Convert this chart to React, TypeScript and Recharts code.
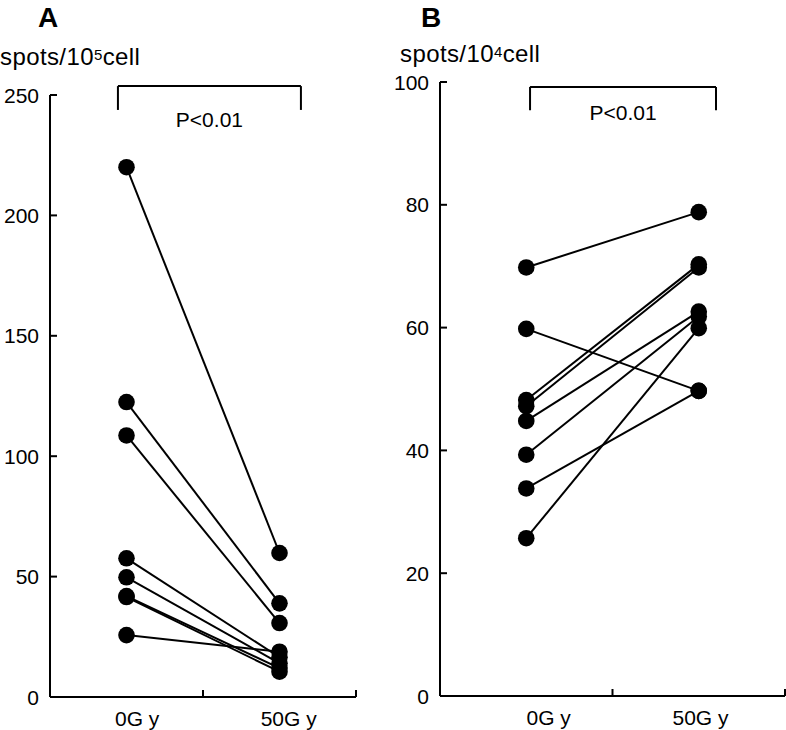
import React from 'react';
import { ScatterChart, Scatter, XAxis, YAxis, ReferenceLine } from 'recharts';

// group positions on the x axis and their labels
const GROUPS = ['0G y', '50G y'];
const GROUP_X = [0.5, 1.5];

// panel A: spots/10^5 cell, one pair per subject
const A_BEFORE = [220, 122.5, 108.6, 57.6, 49.7, 41.9, 41.5, 25.7];
const A_AFTER = [59.8, 38.9, 30.7, 16.5, 14, 12, 10.5, 18.8];
const A_TICKS = [0, 50, 100, 150, 200, 250];

// panel B: spots/10^4 cell
const B_BEFORE = [69.8, 59.8, 48.2, 47.2, 44.8, 39.3, 33.8, 25.7];
const B_AFTER = [78.8, 49.7, 70.3, 69.8, 62.6, 61.8, 49.7, 59.9];
const B_TICKS = [0, 20, 40, 60, 80, 100];

const FONT = '"Liberation Sans", Arial, Helvetica, sans-serif';

const dot = (p: any) => <circle cx={p.cx} cy={p.cy} r={8.3} fill="#000" />;

interface PanelProps {
  width: number;
  height: number;
  margin: { top: number; right: number; bottom: number; left: number };
  yMax: number;
  yTicks: number[];
  before: number[];
  after: number[];
  labelTicks: number[];
  bracket: { x1: number; x2: number; top: number; bottom: number; offset: number };
}

const Panel: React.FC<PanelProps> = ({ width, height, margin, yMax, yTicks, before, after, labelTicks, bracket }) => {
  const xTick = ({ x, y, payload }: any) => {
    const v = payload.value;
    if (Number.isInteger(v)) {
      return (
        <g>
          <line x1={x} x2={x} y1={y} y2={y - 7} stroke="#000" strokeWidth={2} />
        </g>
      );
    }
    const idx = labelTicks.indexOf(v);
    return (
      <g>
        <text x={x} y={y + 29} textAnchor="middle" fontSize={21} fill="#000" fontFamily={FONT}>
          {GROUPS[idx]}
        </text>
      </g>
    );
  };

  const yTick = ({ x, y, payload }: any) => (
    <g>
      <line x1={x} x2={x + 7} y1={y} y2={y} stroke="#000" strokeWidth={2} />
      <text x={x - 11} y={y} dy="0.36em" textAnchor="end" fontSize={21} fill="#000" fontFamily={FONT}>
        {payload.value}
      </text>
    </g>
  );

  return (
    <ScatterChart width={width} height={height} margin={margin}>
      <XAxis
        type="number"
        dataKey="x"
        domain={[0, 2]}
        ticks={[labelTicks[0], 1, labelTicks[1], 2]}
        interval={0}
        tickSize={0}
        tickMargin={0}
        tickLine={false}
        tick={xTick}
        height={30}
        axisLine={{ stroke: '#000', strokeWidth: 2 }}
      />
      <YAxis
        type="number"
        dataKey="y"
        domain={[0, yMax]}
        ticks={yTicks}
        interval={0}
        width={50}
        tickSize={0}
        tickMargin={0}
        tickLine={false}
        tick={yTick}
        axisLine={{ stroke: '#000', strokeWidth: 2 }}
      />
      {before.map((b, i) => (
        <Scatter
          key={i}
          data={[
            { x: GROUP_X[0], y: b },
            { x: GROUP_X[1], y: after[i] },
          ]}
          line={{ stroke: '#000', strokeWidth: 2 }}
          shape={dot}
          fill="#000"
          isAnimationActive={false}
        />
      ))}
      <ReferenceLine
        segment={[{ x: bracket.x1, y: bracket.top }, { x: bracket.x2, y: bracket.top }]}
        stroke="#000"
        strokeWidth={2}
        ifOverflow="visible"
        label={{ value: 'P<0.01', position: 'bottom', offset: bracket.offset, fontSize: 21, fill: '#000' }}
      />
      <ReferenceLine
        segment={[{ x: bracket.x1, y: bracket.top }, { x: bracket.x1, y: bracket.bottom }]}
        stroke="#000"
        strokeWidth={2}
        ifOverflow="visible"
      />
      <ReferenceLine
        segment={[{ x: bracket.x2, y: bracket.top }, { x: bracket.x2, y: bracket.bottom }]}
        stroke="#000"
        strokeWidth={2}
        ifOverflow="visible"
      />
    </ScatterChart>
  );
};

const titleStyle: React.CSSProperties = {
  position: 'absolute',
  fontSize: 28,
  fontWeight: 700,
  lineHeight: 1,
};

const unitStyle: React.CSSProperties = {
  position: 'absolute',
  fontSize: 24,
  lineHeight: 1,
  letterSpacing: 0.4,
  whiteSpace: 'nowrap',
};

const sup: React.CSSProperties = { fontSize: 15, position: 'relative', top: -5 };

export default function App() {
  return (
    <div
      style={{
        position: 'absolute',
        left: 0,
        top: 0,
        width: 786,
        height: 730,
        background: '#fff',
        color: '#000',
        fontFamily: FONT,
      }}
    >
      <div style={{ position: 'absolute', left: 0, top: 0 }}>
        <Panel
          width={370}
          height={730}
          margin={{ top: 95, right: 14, bottom: 3, left: 0 }}
          yMax={250}
          yTicks={A_TICKS}
          before={A_BEFORE}
          after={A_AFTER}
          labelTicks={[0.57, 1.56]}
          bracket={{ x1: 0.444, x2: 1.64, top: 253.7, bottom: 243.8, offset: 26 }}
        />
      </div>
      <div style={{ position: 'absolute', left: 390, top: 0 }}>
        <Panel
          width={396}
          height={730}
          margin={{ top: 82, right: 1, bottom: 4, left: 0 }}
          yMax={100}
          yTicks={B_TICKS}
          before={B_BEFORE}
          after={B_AFTER}
          labelTicks={[0.63, 1.51]}
          bracket={{ x1: 0.522, x2: 1.6, top: 99.2, bottom: 95.4, offset: 18 }}
        />
      </div>
      <div style={{ ...titleStyle, left: 38, top: 4 }}>A</div>
      <div style={{ ...titleStyle, left: 421, top: 4 }}>B</div>
      <div style={{ ...unitStyle, left: 0, top: 45 }}>
        spots/10<span style={sup}>5</span>cell
      </div>
      <div style={{ ...unitStyle, left: 400, top: 42 }}>
        spots/10<span style={sup}>4</span>cell
      </div>
    </div>
  );
}
